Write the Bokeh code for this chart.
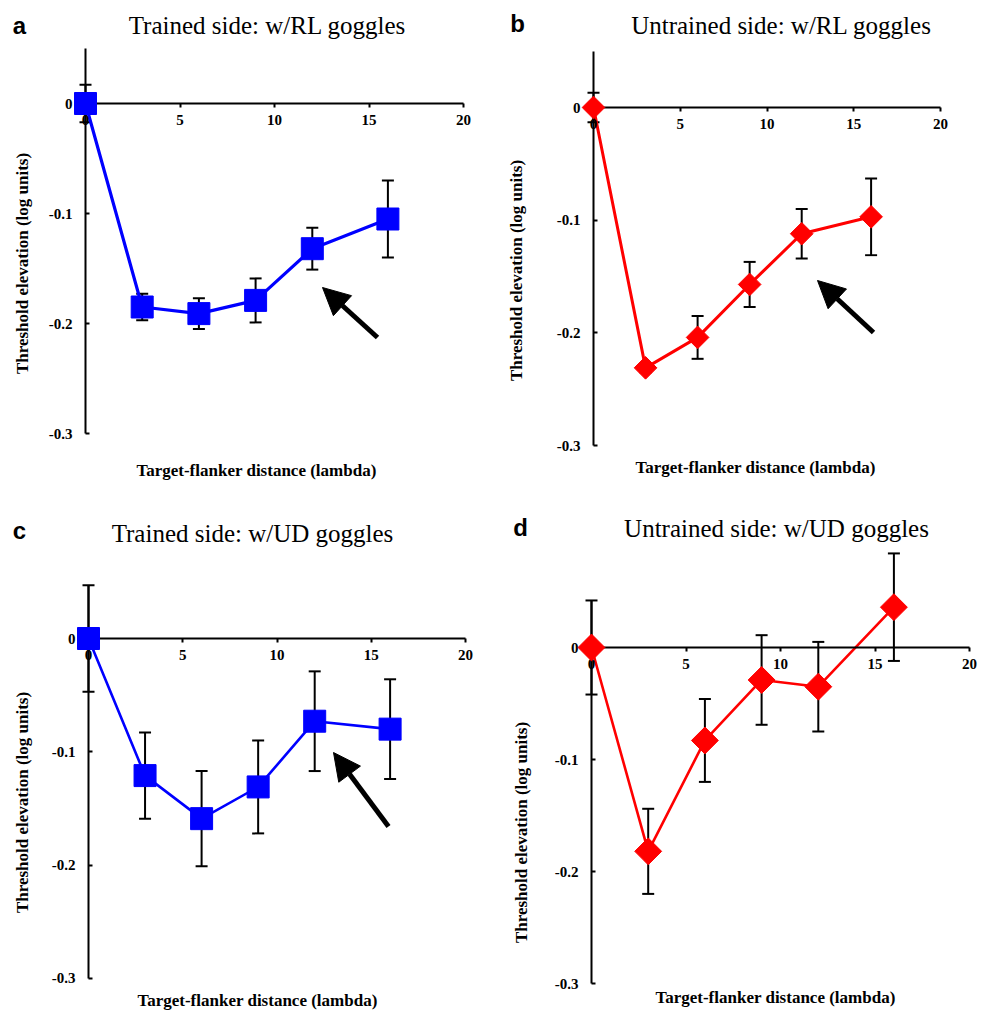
import numpy as np
from bokeh.plotting import figure
from bokeh.models import (ColumnDataSource, Whisker, TeeHead, Arrow, NormalHead,
                          Label, FixedTicker, Range1d)
from bokeh.layouts import column, row
from bokeh.embed import file_html
from bokeh.resources import INLINE

# ---------------- data ----------------
distance = [0, 3, 6, 9, 12, 16]
x_ticks = [0, 5, 10, 15, 20]
y_ticks = [0, -0.1, -0.2, -0.3]

a_vals = [0.0, -0.185, -0.191, -0.179, -0.132, -0.105]
a_err = [0.017, 0.012, 0.014, 0.020, 0.019, 0.035]
b_vals = [0.0, -0.231, -0.204, -0.157, -0.112, -0.097]
b_err = [0.013, 0.004, 0.019, 0.020, 0.022, 0.034]
c_vals = [0.0, -0.121, -0.159, -0.131, -0.073, -0.080]
c_err = [0.047, 0.038, 0.042, 0.041, 0.044, 0.044]
d_vals = [0.0, -0.182, -0.083, -0.029, -0.035, 0.036]
d_err = [0.042, 0.038, 0.037, 0.040, 0.040, 0.048]

titles = ["Trained side: w/RL goggles", "Untrained side: w/RL goggles",
          "Trained side: w/UD goggles", "Untrained side: w/UD goggles"]
letters = ["a", "b", "c", "d"]
x_label = "Target-flanker distance (lambda)"
y_label = "Threshold elevation (log units)"

W, H = 491, 505
SERIF = "Liberation Serif"
SANS = "Liberation Sans"


def make_panel(letter, title, vals, err, color, marker, g):
    def dx(px):
        return (px - g["x0"]) / g["kx"]

    def dy(py):
        return (g["y0"] - py) / g["ky"]

    p = figure(width=W, height=H, title=None, toolbar_location=None,
               output_backend="svg", min_border=0,
               x_range=Range1d(dx(0), dx(W)), y_range=Range1d(dy(H), dy(0)))
    p.outline_line_color = None
    p.grid.visible = False
    p.background_fill_color = "white"

    for ax in (p.xaxis, p.yaxis):
        ax.fixed_location = 0
        ax.axis_line_width = 2
        ax.axis_line_color = "black"
        ax.major_tick_line_width = 2
        ax.major_tick_line_color = "black"
        ax.minor_tick_line_color = None
        ax.major_label_text_font = SERIF
        ax.major_label_text_font_style = "bold"
        ax.major_label_text_font_size = "15px"
        ax.major_label_text_color = "black"
    p.xaxis.ticker = FixedTicker(ticks=x_ticks)
    p.yaxis.ticker = FixedTicker(ticks=y_ticks)
    p.xaxis.bounds = (0, 20)
    p.yaxis.bounds = (-0.3, g["ytop"])
    p.xaxis.major_tick_out = 4
    p.xaxis.major_tick_in = 0
    p.xaxis.major_label_standoff = 7
    p.yaxis.major_tick_out = 0
    p.yaxis.major_tick_in = 4
    p.yaxis.major_label_standoff = 13
    p.yaxis.major_label_overrides = {0: "0", -0.1: "-0.1", -0.2: "-0.2", -0.3: "-0.3"}

    src = ColumnDataSource(dict(
        x=distance, y=vals,
        upper=[v + e for v, e in zip(vals, err)],
        lower=[v - e for v, e in zip(vals, err)]))

    wk = Whisker(source=src, base="x", upper="upper", lower="lower",
                 line_color="black", line_width=2, level="underlay",
                 upper_head=TeeHead(size=12, line_width=2, line_color="black"),
                 lower_head=TeeHead(size=12, line_width=2, line_color="black"))
    p.add_layout(wk)

    p.line("x", "y", source=src, line_color=color, line_width=g["lw"])
    if marker == "square":
        p.scatter("x", "y", source=src, marker="square", size=g["ms"],
                  fill_color=color, line_color=color, level="overlay")
    else:
        p.scatter("x", "y", source=src, marker="square", angle=np.pi / 4,
                  size=g["ms"], fill_color=color, line_color=color, level="overlay")

    if g.get("arrow"):
        (tx, ty), (sx, sy) = g["arrow"]
        p.add_layout(Arrow(x_start=dx(sx), y_start=dy(sy), x_end=dx(tx), y_end=dy(ty),
                           line_width=5, line_color="black",
                           end=NormalHead(size=27, fill_color="black",
                                          line_color="black", line_width=1)))

    p.add_layout(Label(x=dx(g["title"][0]), y=dy(g["title"][1]), text=title,
                       text_font=SERIF, text_font_size="25px", text_align="center",
                       text_baseline="middle", text_color="black"))
    p.add_layout(Label(x=dx(g["letter"][0]), y=dy(g["letter"][1]), text=letter,
                       text_font=SANS, text_font_style="bold", text_font_size="24px",
                       text_align="center", text_baseline="middle", text_color="black"))
    p.add_layout(Label(x=dx(g["xlab"][0]), y=dy(g["xlab"][1]), text=x_label,
                       text_font=SERIF, text_font_style="bold", text_font_size="17px",
                       text_align="center", text_baseline="middle", text_color="black"))
    p.add_layout(Label(x=dx(g["ylab"][0]), y=dy(g["ylab"][1]), text=y_label,
                       angle=np.pi / 2,
                       text_font=SERIF, text_font_style="bold", text_font_size="17px",
                       text_align="center", text_baseline="middle", text_color="black"))
    return p


geo_a = dict(x0=85, kx=18.9, y0=103, ky=1100, ytop=0.05, lw=3.2, ms=22,
             title=(267, 25), letter=(19, 25), xlab=(256, 470), ylab=(22, 263),
             arrow=((322, 287), (377, 337)))
geo_b = dict(x0=102, kx=17.35, y0=107, ky=1127, ytop=0.05, lw=3, ms=16,
             title=(290, 25), letter=(26, 23), xlab=(264, 467), ylab=(25, 270),
             arrow=((326, 280), (382, 332)))
geo_c = dict(x0=88, kx=18.85, y0=133, ky=1133, ytop=0.047, lw=2.6, ms=22,
             title=(252, 28), letter=(19, 25), xlab=(257, 495), ylab=(22, 297),
             arrow=((333, 247), (388, 321)))
geo_d = dict(x0=100, kx=18.9, y0=142, ky=1120, ytop=0.042, lw=2.6, ms=19,
             title=(285, 23), letter=(29, 22), xlab=(284, 492), ylab=(30, 327),
             arrow=None)

pa = make_panel(letters[0], titles[0], a_vals, a_err, "#0000FF", "square", geo_a)
pb = make_panel(letters[1], titles[1], b_vals, b_err, "#FF0000", "diamond", geo_b)
pc = make_panel(letters[2], titles[2], c_vals, c_err, "#0000FF", "square", geo_c)
pd = make_panel(letters[3], titles[3], d_vals, d_err, "#FF0000", "diamond", geo_d)

layout = column(row(pa, pb), row(pc, pd))
open("out.html", "w").write(file_html(layout, INLINE))
